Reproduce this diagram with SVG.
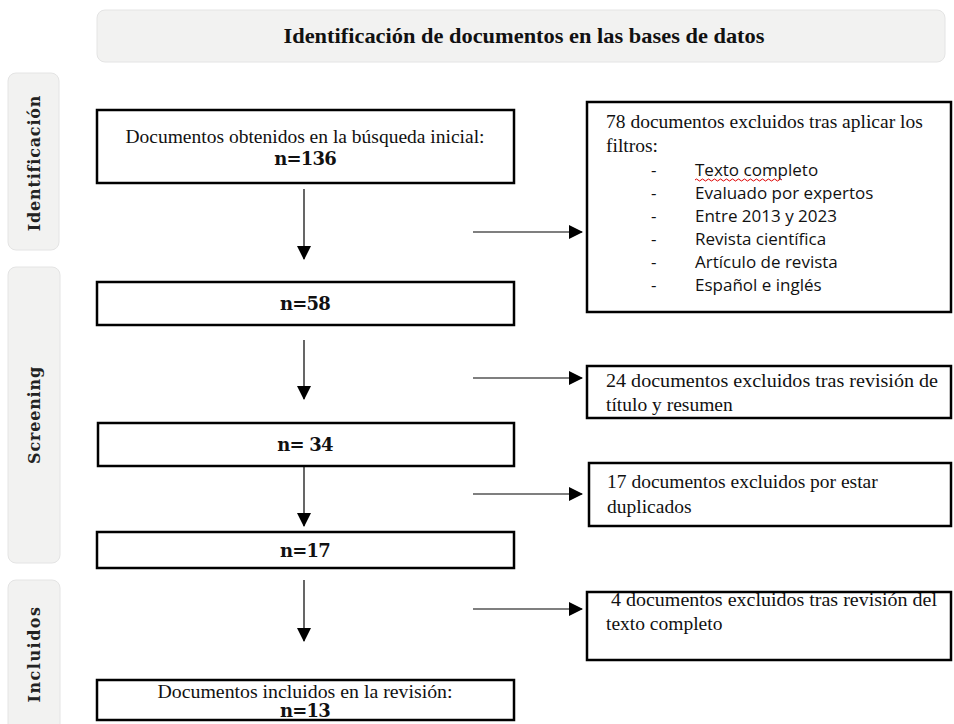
<svg xmlns="http://www.w3.org/2000/svg" width="954" height="724" viewBox="0 0 954 724">
<style>
.band{fill:#f2f2f1;stroke:#e4e4e4;stroke-width:1}
.box{fill:#fff;stroke:#000;stroke-width:2.5}
.serif{font-family:"Liberation Serif","DejaVu Serif",serif;font-size:19.5px;fill:#111}
.bold{font-family:"DejaVu Serif","Liberation Serif",serif;font-weight:bold;font-size:18px;fill:#111;letter-spacing:-0.8px}
.title{font-family:"Liberation Serif","DejaVu Serif",serif;font-weight:bold;font-size:21px;fill:#111}
.side{font-family:"DejaVu Serif","Liberation Serif",serif;font-weight:bold;font-size:16px;fill:#222}
.sans{font-family:"Open Sans","Liberation Sans",sans-serif;font-size:17px;fill:#111}
.conn{stroke:#000;stroke-width:1.2;fill:none}
</style>
<defs>
<marker id="ah" markerWidth="14" markerHeight="14" refX="13" refY="7" orient="auto" markerUnits="userSpaceOnUse">
<path d="M0,0 L14,7 L0,14 Z" fill="#000"/>
</marker>
</defs>

<g id="header">
<rect class="band" x="97" y="10" width="848" height="52" rx="8"/>
<text class="title" x="524" y="43" text-anchor="middle" textLength="481" lengthAdjust="spacingAndGlyphs">Identificación de documentos en las bases de datos</text>
</g>

<g id="phase-identificacion">
<rect class="band" x="8" y="73" width="51" height="177" rx="8"/>
<text class="side" transform="translate(40,163) rotate(-90)" text-anchor="middle" letter-spacing="0.8">Identificación</text>
</g>
<g id="phase-screening">
<rect class="band" x="8" y="267" width="52" height="296" rx="8"/>
<text class="side" transform="translate(40,415) rotate(-90)" text-anchor="middle" letter-spacing="0.8">Screening</text>
</g>
<g id="phase-incluidos">
<rect class="band" x="8" y="580" width="52" height="160" rx="8"/>
<text class="side" transform="translate(40,654) rotate(-90)" text-anchor="middle" letter-spacing="1.5">Incluidos</text>
</g>

<g id="n136">
<rect class="box" x="97" y="110" width="417" height="73"/>
<text class="serif" x="305" y="143" text-anchor="middle">Documentos obtenidos en la búsqueda inicial:</text>
<text class="bold" x="305" y="165" text-anchor="middle">n=136</text>
</g>

<g id="excl78">
<rect class="box" x="587" y="102" width="364" height="210"/>
<text class="serif" x="606" y="128">78 documentos excluidos tras aplicar los</text>
<text class="serif" x="606" y="152">filtros:</text>
<g class="sans">
<text x="651" y="176">-</text><text x="695" y="176">Texto completo</text>
<text x="651" y="199">-</text><text x="695" y="199">Evaluado por expertos</text>
<text x="651" y="222">-</text><text x="695" y="222">Entre 2013 y 2023</text>
<text x="651" y="245">-</text><text x="695" y="245">Revista científica</text>
<text x="651" y="268">-</text><text x="695" y="268">Artículo de revista</text>
<text x="651" y="291">-</text><text x="695" y="291">Español e inglés</text>
</g>
<path d="M695,180 q1.5,-2 3,0 t3,0 t3,0 t3,0 t3,0 t3,0 t3,0 t3,0 t3,0 t3,0 t3,0 t3,0 t3,0 t3,0 t3,0 t3,0 t3,0 t3,0 t3,0 t3,0 t3,0 t3,0 t3,0 t3,0 t3,0 t3,0 t3,0 t3,0 t3,0" fill="none" stroke="#d00" stroke-width="1"/>
</g>

<g id="n58">
<rect class="box" x="97" y="282" width="417" height="43"/>
<text class="bold" x="305" y="310" text-anchor="middle">n=58</text>
</g>

<g id="excl24">
<rect class="box" x="587" y="366" width="364" height="52"/>
<text class="serif" x="606" y="387" textLength="332" lengthAdjust="spacingAndGlyphs">24 documentos excluidos tras revisión de</text>
<text class="serif" x="606" y="411">título y resumen</text>
</g>

<g id="n34">
<rect class="box" x="98" y="423" width="416" height="43"/>
<text class="bold" x="305" y="451" text-anchor="middle">n= 34</text>
</g>

<g id="excl17">
<rect class="box" x="589" y="463" width="362" height="63"/>
<text class="serif" x="607" y="488">17 documentos excluidos por estar</text>
<text class="serif" x="607" y="513">duplicados</text>
</g>

<g id="n17">
<rect class="box" x="97" y="532" width="417" height="36"/>
<text class="bold" x="305" y="557" text-anchor="middle">n=17</text>
</g>

<g id="excl4">
<rect class="box" x="587" y="592" width="364" height="68"/>
<text class="serif" x="611" y="606" textLength="326" lengthAdjust="spacingAndGlyphs">4 documentos excluidos tras revisión del</text>
<text class="serif" x="606" y="630">texto completo</text>
</g>

<g id="n13">
<rect class="box" x="97" y="680" width="417" height="40"/>
<text class="serif" x="305" y="698" text-anchor="middle" textLength="295" lengthAdjust="spacingAndGlyphs">Documentos incluidos en la revisión:</text>
<text class="bold" x="305" y="717" text-anchor="middle">n=13</text>
</g>

<g id="connectors">
<line class="conn" x1="304" y1="189" x2="304" y2="259" marker-end="url(#ah)"/>
<line class="conn" x1="473" y1="232" x2="582" y2="232" marker-end="url(#ah)"/>
<line class="conn" x1="304" y1="340" x2="304" y2="399" marker-end="url(#ah)"/>
<line class="conn" x1="473" y1="378" x2="582" y2="378" marker-end="url(#ah)"/>
<line class="conn" x1="304" y1="467" x2="304" y2="526" marker-end="url(#ah)"/>
<line class="conn" x1="473" y1="494" x2="582" y2="494" marker-end="url(#ah)"/>
<line class="conn" x1="304" y1="580" x2="304" y2="641" marker-end="url(#ah)"/>
<line class="conn" x1="473" y1="609" x2="582" y2="609" marker-end="url(#ah)"/>
</g>
</svg>
